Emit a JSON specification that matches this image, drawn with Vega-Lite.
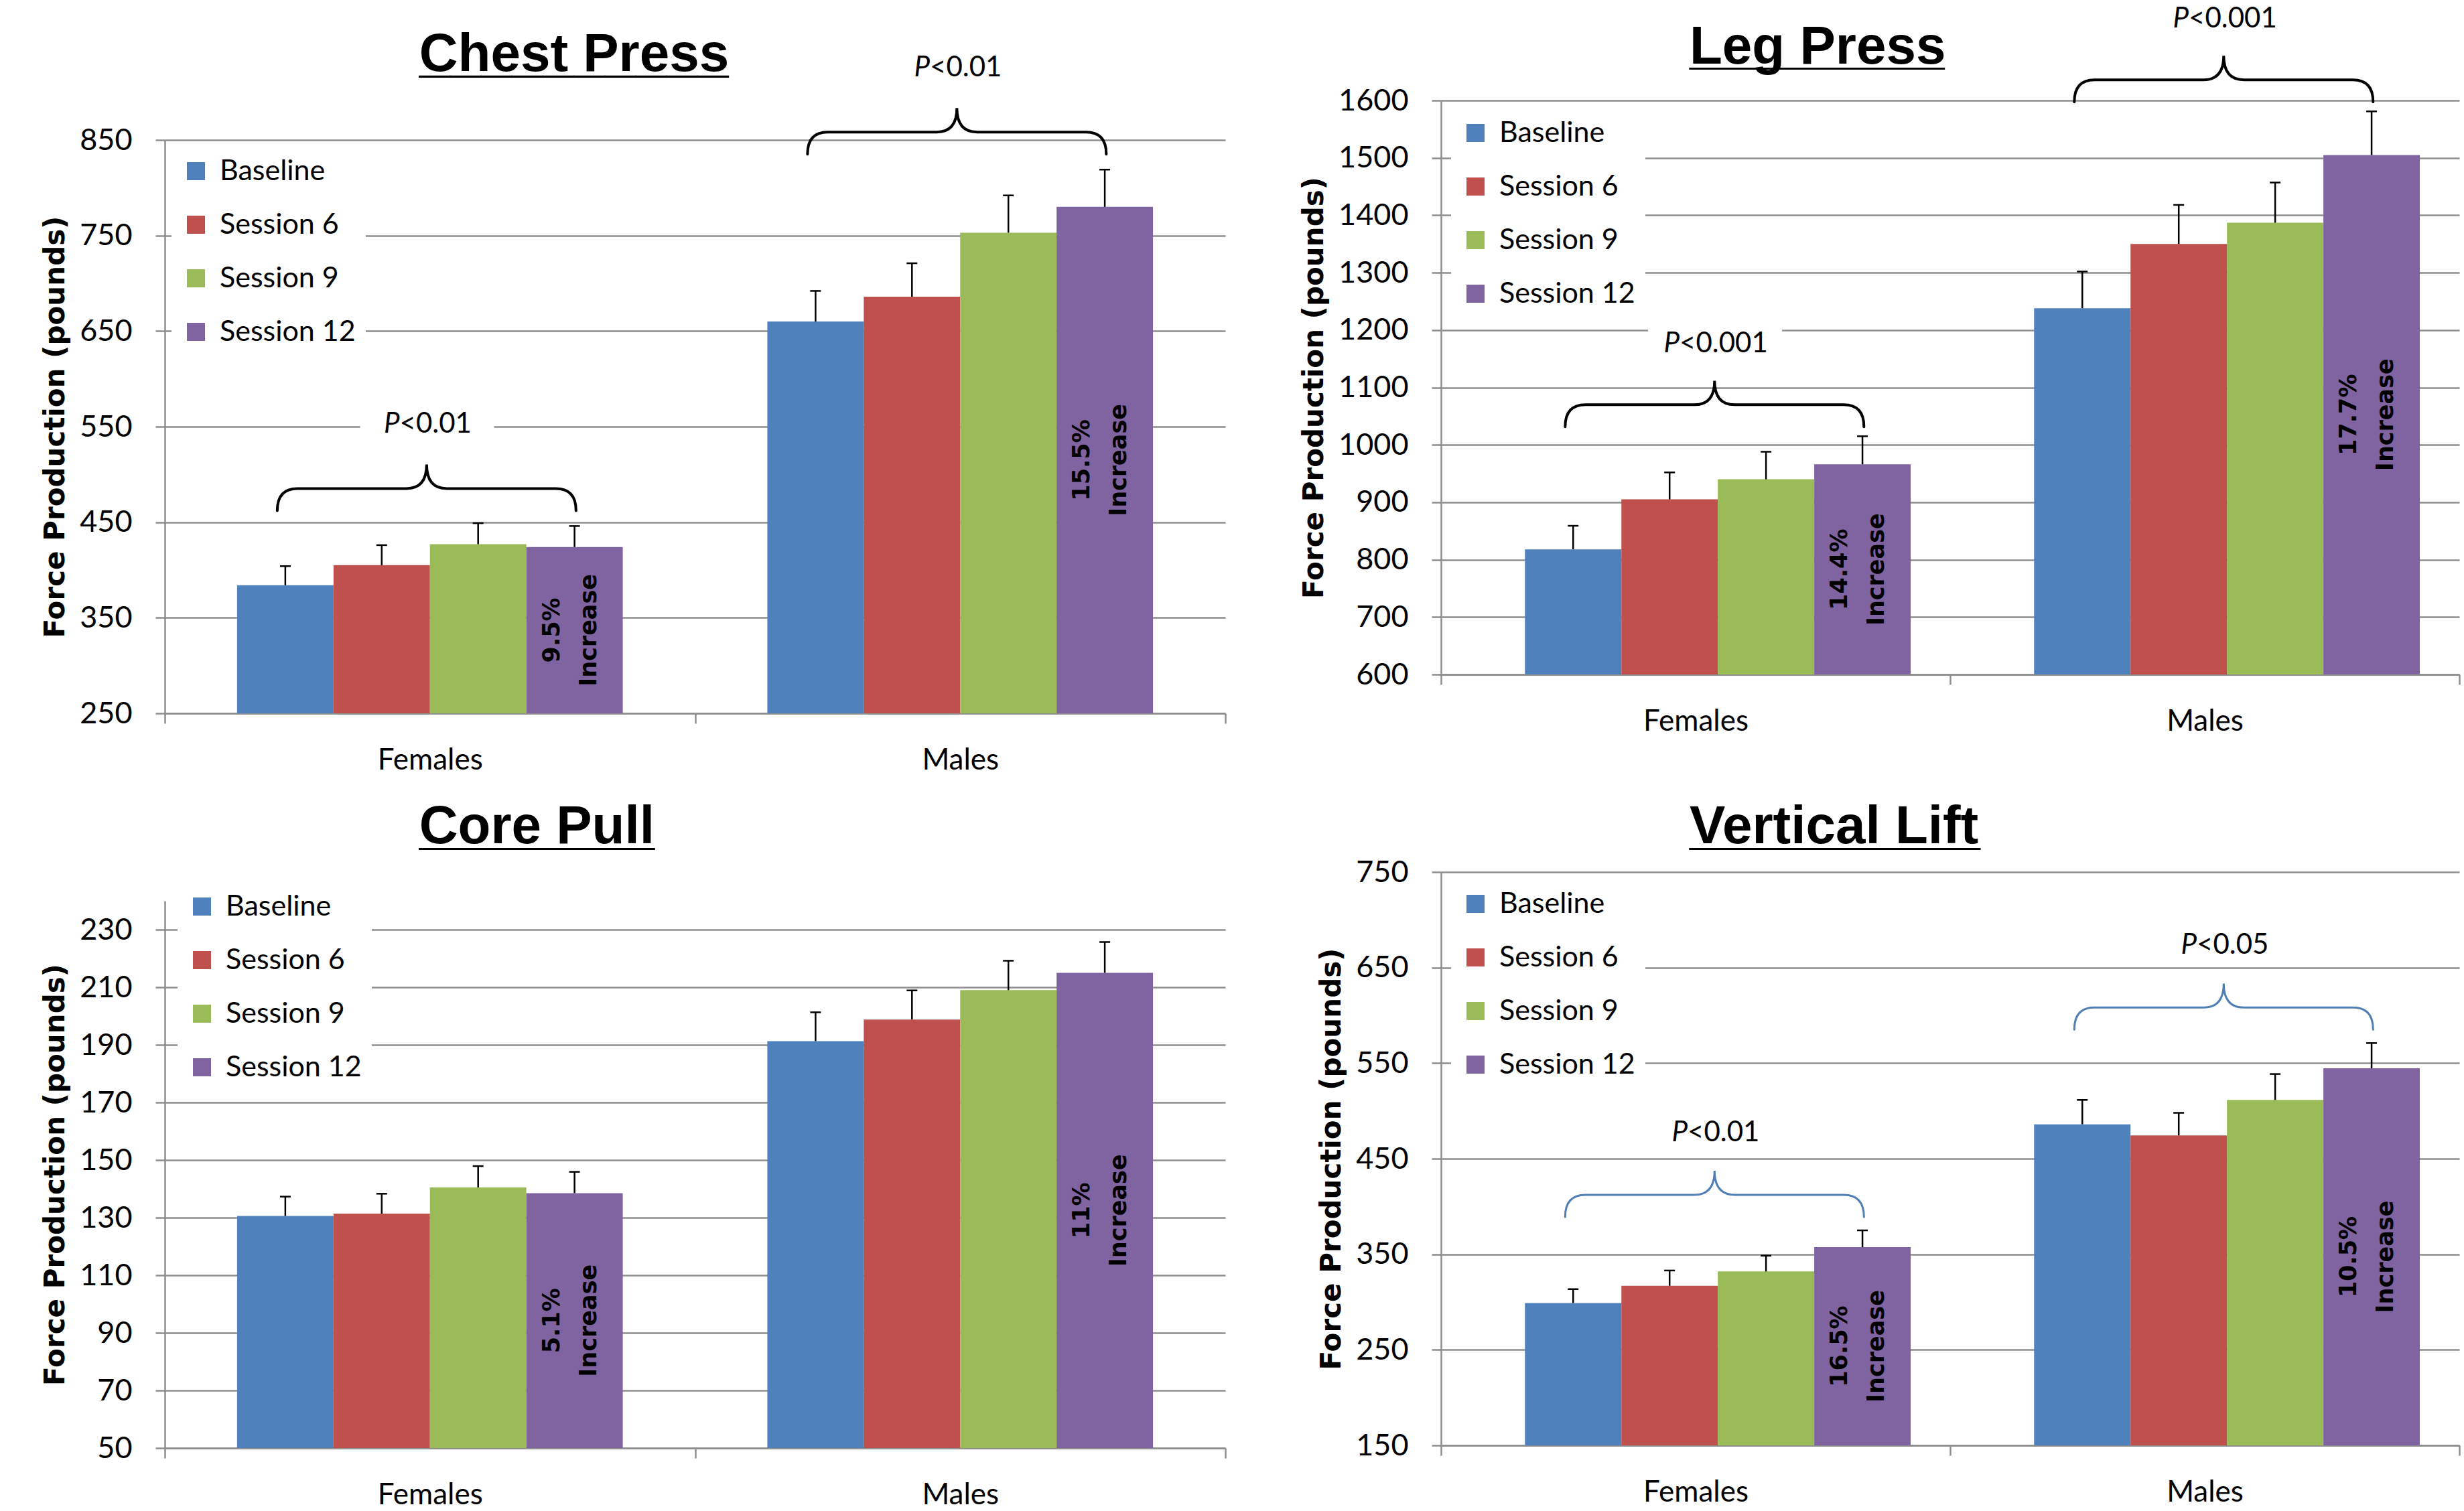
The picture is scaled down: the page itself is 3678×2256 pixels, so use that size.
{
  "$schema": "https://vega.github.io/schema/vega-lite/v6.json",
  "background": "white",
  "padding": {"left": 61, "top": 6, "right": 0, "bottom": 0},
  "bounds": "flush",
  "align": "each",
  "columns": 2,
  "spacing": {"row": 237, "column": 322},
  "resolve": {"scale": {"x": "independent", "y": "independent", "xOffset": "independent", "color": "independent"}, "legend": {"color": "independent"}},
  "config": {
    "view": {"stroke": null},
    "font": "Lato",
    "axisY": {"grid": true, "gridColor": "#8e8e8e", "gridWidth": 2.5, "domainColor": "#8e8e8e", "domainWidth": 2.5, "tickColor": "#8e8e8e", "tickWidth": 2.5, "tickSize": 14, "labelFont": "Lato", "labelFontSize": 45, "labelColor": "#000000", "labelPadding": 35, "titleFont": "DejaVu Sans", "titleFontSize": 42, "titleFontWeight": "bold", "titleColor": "#000000", "titlePadding": 14, "format": "d"},
    "axisX": {"grid": false, "domainColor": "#8e8e8e", "domainWidth": 2.5, "tickColor": "#8e8e8e", "tickWidth": 2.5, "tickSize": 15, "labelFont": "Lato", "labelFontSize": 44, "labelColor": "#000000", "labelPadding": 33, "labelAngle": 0},
    "legend": {"symbolType": "square", "symbolSize": 729, "symbolStrokeWidth": 0, "symbolOpacity": 1, "labelFont": "Lato", "labelFontSize": 43, "labelColor": "#000000", "labelOffset": 14, "labelLimit": 400, "rowPadding": 36, "padding": 15, "fillColor": "white"}
  },
  "concat": [
    {
      "width": 1583, "height": 915,
      "data": {"values": [
        {"gender": "Females", "session": "Baseline", "value": 384, "upper": 404},
        {"gender": "Females", "session": "Session 6", "value": 405, "upper": 426},
        {"gender": "Females", "session": "Session 9", "value": 427, "upper": 449},
        {"gender": "Females", "session": "Session 12", "value": 424, "upper": 446, "p": "<0.01", "pct": "9.5%\nIncrease"},
        {"gender": "Males", "session": "Baseline", "value": 660, "upper": 692},
        {"gender": "Males", "session": "Session 6", "value": 686, "upper": 721},
        {"gender": "Males", "session": "Session 9", "value": 753, "upper": 792},
        {"gender": "Males", "session": "Session 12", "value": 780, "upper": 819, "p": "<0.01", "pct": "15.5%\nIncrease"}
      ]},
      "layer": [
        {"layer": [
          {"mark": {"type": "bar", "clip": true},
           "encoding": {
             "x": {"field": "gender", "type": "nominal", "title": null, "scale": {"domain": ["Females", "Males"], "paddingInner": 0, "paddingOuter": 0}, "axis": {"tickBand": "extent"}},
             "xOffset": {"field": "session", "type": "nominal", "scale": {"domain": ["Baseline", "Session 6", "Session 9", "Session 12"], "paddingInner": 0, "paddingOuter": 0.75}},
             "y": {"field": "value", "type": "quantitative", "title": "Force Production (pounds)", "scale": {"domain": [250, 850], "range": [915, 59], "zero": false, "nice": false}, "axis": {"values": [250, 350, 450, 550, 650, 750, 850]}},
             "color": {"field": "session", "type": "nominal", "scale": {"domain": ["Baseline", "Session 6", "Session 9", "Session 12"], "range": ["#4F81BD", "#C0504D", "#9BBB59", "#8064A2"]}, "legend": {"title": null, "orient": "none", "legendX": 10, "legendY": 69}}
           }},
          {"mark": {"type": "rule", "color": "black", "strokeWidth": 2.5},
           "encoding": {"x": {"field": "gender", "type": "nominal", "title": null}, "xOffset": {"field": "session", "type": "nominal"}, "y": {"field": "value", "type": "quantitative", "title": "Force Production (pounds)"}, "y2": {"field": "upper"}}},
          {"mark": {"type": "tick", "color": "black", "thickness": 2.5, "size": 16, "opacity": 1},
           "encoding": {"x": {"field": "gender", "type": "nominal", "title": null}, "xOffset": {"field": "session", "type": "nominal"}, "y": {"field": "upper", "type": "quantitative", "title": "Force Production (pounds)"}}},
          {"transform": [{"filter": "datum.session === 'Session 12'"}],
           "mark": {"type": "point", "shape": "M -1.99 -0.103 Q -1.99 -0.251 -1.855 -0.251 L -1.125 -0.251 Q -0.99 -0.251 -0.99 -0.412 Q -0.99 -0.251 -0.855 -0.251 L -0.125 -0.251 Q 0.01 -0.251 0.01 -0.103", "size": 198916, "filled": false, "color": "black", "strokeWidth": 4, "opacity": 1, "strokeCap": "round"},
           "encoding": {"x": {"field": "gender", "type": "nominal", "title": null}, "xOffset": {"field": "session", "type": "nominal"}, "y": {"field": "upper", "type": "quantitative", "title": "Force Production (pounds)"}}},
          {"transform": [{"filter": "datum.session === 'Session 12'"}],
           "mark": {"type": "point", "shape": "M -3.2 -1.74 L -1.2 -1.74 L -1.2 -1.3 L -3.2 -1.3 Z", "size": 40000, "filled": true, "color": "white", "opacity": 1, "strokeWidth": 0},
           "encoding": {"x": {"field": "gender", "type": "nominal", "title": null}, "xOffset": {"field": "session", "type": "nominal"}, "y": {"field": "upper", "type": "quantitative", "title": "Force Production (pounds)"}}},
          {"transform": [{"filter": "datum.session === 'Session 12'"}],
           "mark": {"type": "text", "text": "P", "font": "Lato", "fontSize": 42, "fontStyle": "italic", "align": "right", "baseline": "middle", "dx": -261, "dy": -152, "color": "black"},
           "encoding": {"x": {"field": "gender", "type": "nominal", "title": null}, "xOffset": {"field": "session", "type": "nominal"}, "y": {"field": "upper", "type": "quantitative", "title": "Force Production (pounds)"}}},
          {"transform": [{"filter": "datum.session === 'Session 12'"}],
           "mark": {"type": "text", "font": "Lato", "fontSize": 42, "align": "left", "baseline": "middle", "dx": -261, "dy": -152, "color": "black"},
           "encoding": {"x": {"field": "gender", "type": "nominal", "title": null}, "xOffset": {"field": "session", "type": "nominal"}, "y": {"field": "upper", "type": "quantitative", "title": "Force Production (pounds)"}, "text": {"field": "p"}}},
          {"data": {"values": [{}]},
           "mark": {"type": "text", "text": "Chest Press", "font": "Liberation Sans", "fontWeight": "bold", "fontSize": 80, "align": "left", "baseline": "alphabetic", "dx": -16, "dy": -103, "color": "black"},
           "encoding": {"x": {"datum": "Females", "type": "nominal"}, "y": {"datum": 850, "type": "quantitative"}}},
          {"data": {"values": [{}]},
           "mark": {"type": "text", "text": "__________", "font": "Liberation Sans", "fontWeight": "bold", "fontSize": 83, "align": "left", "baseline": "alphabetic", "dx": -16, "dy": -103, "color": "black"},
           "encoding": {"x": {"datum": "Females", "type": "nominal"}, "y": {"datum": 850, "type": "quantitative"}}}
        ]},
        {"transform": [{"filter": "datum.session === 'Session 12'"}],
         "mark": {"type": "text", "angle": 270, "font": "DejaVu Sans", "fontWeight": "bold", "fontSize": 35, "lineHeight": 55, "lineBreak": "\n", "align": "center", "baseline": "middle", "dy": -34, "color": "black"},
         "encoding": {"x": {"field": "gender", "type": "nominal", "title": null}, "xOffset": {"field": "session", "type": "nominal"}, "y": {"field": "value", "type": "quantitative", "scale": {"domain": [250, 1450], "range": [915, 59], "zero": false, "nice": false}, "axis": null}, "text": {"field": "pct"}}}
      ],
      "resolve": {"scale": {"y": "independent"}}
    },
    {
      "width": 1520, "height": 857,
      "data": {"values": [
        {"gender": "Females", "session": "Baseline", "value": 818, "upper": 859},
        {"gender": "Females", "session": "Session 6", "value": 905, "upper": 952},
        {"gender": "Females", "session": "Session 9", "value": 940, "upper": 988},
        {"gender": "Females", "session": "Session 12", "value": 966, "upper": 1015, "p": "<0.001", "pct": "14.4%\nIncrease"},
        {"gender": "Males", "session": "Baseline", "value": 1238, "upper": 1302},
        {"gender": "Males", "session": "Session 6", "value": 1350, "upper": 1418},
        {"gender": "Males", "session": "Session 9", "value": 1387, "upper": 1457},
        {"gender": "Males", "session": "Session 12", "value": 1505, "upper": 1581, "p": "<0.001", "pct": "17.7%\nIncrease"}
      ]},
      "layer": [
        {"layer": [
          {"mark": {"type": "bar", "clip": true},
           "encoding": {
             "x": {"field": "gender", "type": "nominal", "title": null, "scale": {"domain": ["Females", "Males"], "paddingInner": 0, "paddingOuter": 0}, "axis": {"tickBand": "extent"}},
             "xOffset": {"field": "session", "type": "nominal", "scale": {"domain": ["Baseline", "Session 6", "Session 9", "Session 12"], "paddingInner": 0, "paddingOuter": 0.64, "align": 0.68}},
             "y": {"field": "value", "type": "quantitative", "title": "Force Production (pounds)", "scale": {"domain": [600, 1600], "zero": false, "nice": false}, "axis": {"values": [600, 700, 800, 900, 1000, 1100, 1200, 1300, 1400, 1500, 1600]}},
             "color": {"field": "session", "type": "nominal", "scale": {"domain": ["Baseline", "Session 6", "Session 9", "Session 12"], "range": ["#4F81BD", "#C0504D", "#9BBB59", "#8064A2"]}, "legend": {"title": null, "orient": "none", "legendX": 15, "legendY": 12}}
           }},
          {"mark": {"type": "rule", "color": "black", "strokeWidth": 2.5},
           "encoding": {"x": {"field": "gender", "type": "nominal", "title": null}, "xOffset": {"field": "session", "type": "nominal"}, "y": {"field": "value", "type": "quantitative", "title": "Force Production (pounds)"}, "y2": {"field": "upper"}}},
          {"mark": {"type": "tick", "color": "black", "thickness": 2.5, "size": 16, "opacity": 1},
           "encoding": {"x": {"field": "gender", "type": "nominal", "title": null}, "xOffset": {"field": "session", "type": "nominal"}, "y": {"field": "upper", "type": "quantitative", "title": "Force Production (pounds)"}}},
          {"transform": [{"filter": "datum.session === 'Session 12'"}],
           "mark": {"type": "point", "shape": "M -1.99 -0.063 Q -1.99 -0.211 -1.855 -0.211 L -1.125 -0.211 Q -0.99 -0.211 -0.99 -0.372 Q -0.99 -0.211 -0.855 -0.211 L -0.125 -0.211 Q 0.01 -0.211 0.01 -0.063", "size": 198916, "filled": false, "color": "black", "strokeWidth": 4, "opacity": 1, "strokeCap": "round"},
           "encoding": {"x": {"field": "gender", "type": "nominal", "title": null}, "xOffset": {"field": "session", "type": "nominal"}, "y": {"field": "upper", "type": "quantitative", "title": "Force Production (pounds)"}}},
          {"transform": [{"filter": "datum.session === 'Session 12'"}],
           "mark": {"type": "point", "shape": "M -3.2 -1.6 L -1.2 -1.6 L -1.2 -1.16 L -3.2 -1.16 Z", "size": 40000, "filled": true, "color": "white", "opacity": 1, "strokeWidth": 0},
           "encoding": {"x": {"field": "gender", "type": "nominal", "title": null}, "xOffset": {"field": "session", "type": "nominal"}, "y": {"field": "upper", "type": "quantitative", "title": "Force Production (pounds)"}}},
          {"transform": [{"filter": "datum.session === 'Session 12'"}],
           "mark": {"type": "text", "text": "P", "font": "Lato", "fontSize": 42, "fontStyle": "italic", "align": "right", "baseline": "middle", "dx": -273, "dy": -138, "color": "black"},
           "encoding": {"x": {"field": "gender", "type": "nominal", "title": null}, "xOffset": {"field": "session", "type": "nominal"}, "y": {"field": "upper", "type": "quantitative", "title": "Force Production (pounds)"}}},
          {"transform": [{"filter": "datum.session === 'Session 12'"}],
           "mark": {"type": "text", "font": "Lato", "fontSize": 42, "align": "left", "baseline": "middle", "dx": -273, "dy": -138, "color": "black"},
           "encoding": {"x": {"field": "gender", "type": "nominal", "title": null}, "xOffset": {"field": "session", "type": "nominal"}, "y": {"field": "upper", "type": "quantitative", "title": "Force Production (pounds)"}, "text": {"field": "p"}}},
          {"data": {"values": [{}]},
           "mark": {"type": "text", "text": "Leg Press", "font": "Liberation Sans", "fontWeight": "bold", "fontSize": 80, "align": "left", "baseline": "alphabetic", "dx": -9, "dy": -55, "color": "black"},
           "encoding": {"x": {"datum": "Females", "type": "nominal"}, "y": {"datum": 1600, "type": "quantitative"}}},
          {"data": {"values": [{}]},
           "mark": {"type": "text", "text": "_________", "font": "Liberation Sans", "fontWeight": "bold", "fontSize": 76, "align": "left", "baseline": "alphabetic", "dx": -9, "dy": -55, "color": "black"},
           "encoding": {"x": {"datum": "Females", "type": "nominal"}, "y": {"datum": 1600, "type": "quantitative"}}}
        ]},
        {"transform": [{"filter": "datum.session === 'Session 12'"}],
         "mark": {"type": "text", "angle": 270, "font": "DejaVu Sans", "fontWeight": "bold", "fontSize": 35, "lineHeight": 55, "lineBreak": "\n", "align": "center", "baseline": "middle", "dy": -34, "color": "black"},
         "encoding": {"x": {"field": "gender", "type": "nominal", "title": null}, "xOffset": {"field": "session", "type": "nominal"}, "y": {"field": "value", "type": "quantitative", "scale": {"domain": [600, 2600], "zero": false, "nice": false}, "axis": null}, "text": {"field": "pct"}}}
      ],
      "resolve": {"scale": {"y": "independent"}}
    },
    {
      "width": 1583, "height": 860,
      "data": {"values": [
        {"gender": "Females", "session": "Baseline", "value": 130.6, "upper": 137.3},
        {"gender": "Females", "session": "Session 6", "value": 131.4, "upper": 138.3},
        {"gender": "Females", "session": "Session 9", "value": 140.5, "upper": 147.9},
        {"gender": "Females", "session": "Session 12", "value": 138.5, "upper": 145.9, "pct": "5.1%\nIncrease"},
        {"gender": "Males", "session": "Baseline", "value": 191.3, "upper": 201.3},
        {"gender": "Males", "session": "Session 6", "value": 198.8, "upper": 208.9},
        {"gender": "Males", "session": "Session 9", "value": 209, "upper": 219.2},
        {"gender": "Males", "session": "Session 12", "value": 215, "upper": 225.7, "pct": "11%\nIncrease"}
      ]},
      "layer": [
        {"layer": [
          {"mark": {"type": "bar", "clip": true},
           "encoding": {
             "x": {"field": "gender", "type": "nominal", "title": null, "scale": {"domain": ["Females", "Males"], "paddingInner": 0, "paddingOuter": 0}, "axis": {"tickBand": "extent"}},
             "xOffset": {"field": "session", "type": "nominal", "scale": {"domain": ["Baseline", "Session 6", "Session 9", "Session 12"], "paddingInner": 0, "paddingOuter": 0.75}},
             "y": {"field": "value", "type": "quantitative", "title": "Force Production (pounds)", "scale": {"domain": [50, 240], "range": [860, 43], "zero": false, "nice": false}, "axis": {"values": [50, 70, 90, 110, 130, 150, 170, 190, 210, 230]}},
             "color": {"field": "session", "type": "nominal", "scale": {"domain": ["Baseline", "Session 6", "Session 9", "Session 12"], "range": ["#4F81BD", "#C0504D", "#9BBB59", "#8064A2"]}, "legend": {"title": null, "orient": "none", "legendX": 19, "legendY": 15}}
           }},
          {"mark": {"type": "rule", "color": "black", "strokeWidth": 2.5},
           "encoding": {"x": {"field": "gender", "type": "nominal", "title": null}, "xOffset": {"field": "session", "type": "nominal"}, "y": {"field": "value", "type": "quantitative", "title": "Force Production (pounds)"}, "y2": {"field": "upper"}}},
          {"mark": {"type": "tick", "color": "black", "thickness": 2.5, "size": 16, "opacity": 1},
           "encoding": {"x": {"field": "gender", "type": "nominal", "title": null}, "xOffset": {"field": "session", "type": "nominal"}, "y": {"field": "upper", "type": "quantitative", "title": "Force Production (pounds)"}}},
          {"data": {"values": [{}]},
           "mark": {"type": "text", "text": "Core Pull", "font": "Liberation Sans", "fontWeight": "bold", "fontSize": 80, "align": "left", "baseline": "alphabetic", "dx": -16, "dy": -86, "color": "black"},
           "encoding": {"x": {"datum": "Females", "type": "nominal"}, "y": {"datum": 240, "type": "quantitative"}}},
          {"data": {"values": [{}]},
           "mark": {"type": "text", "text": "________", "font": "Liberation Sans", "fontWeight": "bold", "fontSize": 79, "align": "left", "baseline": "alphabetic", "dx": -16, "dy": -86, "color": "black"},
           "encoding": {"x": {"datum": "Females", "type": "nominal"}, "y": {"datum": 240, "type": "quantitative"}}}
        ]},
        {"transform": [{"filter": "datum.session === 'Session 12'"}],
         "mark": {"type": "text", "angle": 270, "font": "DejaVu Sans", "fontWeight": "bold", "fontSize": 35, "lineHeight": 55, "lineBreak": "\n", "align": "center", "baseline": "middle", "dy": -34, "color": "black"},
         "encoding": {"x": {"field": "gender", "type": "nominal", "title": null}, "xOffset": {"field": "session", "type": "nominal"}, "y": {"field": "value", "type": "quantitative", "scale": {"domain": [50, 430], "range": [860, 43], "zero": false, "nice": false}, "axis": null}, "text": {"field": "pct"}}}
      ],
      "resolve": {"scale": {"y": "independent"}}
    },
    {
      "width": 1520, "height": 856,
      "data": {"values": [
        {"gender": "Females", "session": "Baseline", "value": 299, "upper": 313.5},
        {"gender": "Females", "session": "Session 6", "value": 317, "upper": 333},
        {"gender": "Females", "session": "Session 9", "value": 332, "upper": 348.5},
        {"gender": "Females", "session": "Session 12", "value": 357.4, "upper": 375, "p": "<0.01", "pct": "16.5%\nIncrease"},
        {"gender": "Males", "session": "Baseline", "value": 486, "upper": 511.5},
        {"gender": "Males", "session": "Session 6", "value": 474.4, "upper": 498},
        {"gender": "Males", "session": "Session 9", "value": 511.5, "upper": 538.6},
        {"gender": "Males", "session": "Session 12", "value": 544.6, "upper": 571, "p": "<0.05", "pct": "10.5%\nIncrease"}
      ]},
      "layer": [
        {"layer": [
          {"mark": {"type": "bar", "clip": true},
           "encoding": {
             "x": {"field": "gender", "type": "nominal", "title": null, "scale": {"domain": ["Females", "Males"], "paddingInner": 0, "paddingOuter": 0}, "axis": {"tickBand": "extent"}},
             "xOffset": {"field": "session", "type": "nominal", "scale": {"domain": ["Baseline", "Session 6", "Session 9", "Session 12"], "paddingInner": 0, "paddingOuter": 0.64, "align": 0.68}},
             "y": {"field": "value", "type": "quantitative", "title": "Force Production (pounds)", "scale": {"domain": [150, 750], "zero": false, "nice": false}, "axis": {"values": [150, 250, 350, 450, 550, 650, 750]}},
             "color": {"field": "session", "type": "nominal", "scale": {"domain": ["Baseline", "Session 6", "Session 9", "Session 12"], "range": ["#4F81BD", "#C0504D", "#9BBB59", "#8064A2"]}, "legend": {"title": null, "orient": "none", "legendX": 15, "legendY": 11}}
           }},
          {"mark": {"type": "rule", "color": "black", "strokeWidth": 2.5},
           "encoding": {"x": {"field": "gender", "type": "nominal", "title": null}, "xOffset": {"field": "session", "type": "nominal"}, "y": {"field": "value", "type": "quantitative", "title": "Force Production (pounds)"}, "y2": {"field": "upper"}}},
          {"mark": {"type": "tick", "color": "black", "thickness": 2.5, "size": 16, "opacity": 1},
           "encoding": {"x": {"field": "gender", "type": "nominal", "title": null}, "xOffset": {"field": "session", "type": "nominal"}, "y": {"field": "upper", "type": "quantitative", "title": "Force Production (pounds)"}}},
          {"transform": [{"filter": "datum.session === 'Session 12'"}],
           "mark": {"type": "point", "shape": "M -1.99 -0.09 Q -1.99 -0.238 -1.855 -0.238 L -1.125 -0.238 Q -0.99 -0.238 -0.99 -0.399 Q -0.99 -0.238 -0.855 -0.238 L -0.125 -0.238 Q 0.01 -0.238 0.01 -0.09", "size": 198916, "filled": false, "color": "#4f7fb5", "strokeWidth": 3, "opacity": 1, "strokeCap": "round"},
           "encoding": {"x": {"field": "gender", "type": "nominal", "title": null}, "xOffset": {"field": "session", "type": "nominal"}, "y": {"field": "upper", "type": "quantitative", "title": "Force Production (pounds)"}}},
          {"transform": [{"filter": "datum.session === 'Session 12'"}],
           "mark": {"type": "point", "shape": "M -3.2 -1.68 L -1.2 -1.68 L -1.2 -1.24 L -3.2 -1.24 Z", "size": 40000, "filled": true, "color": "white", "opacity": 1, "strokeWidth": 0},
           "encoding": {"x": {"field": "gender", "type": "nominal", "title": null}, "xOffset": {"field": "session", "type": "nominal"}, "y": {"field": "upper", "type": "quantitative", "title": "Force Production (pounds)"}}},
          {"transform": [{"filter": "datum.session === 'Session 12'"}],
           "mark": {"type": "text", "text": "P", "font": "Lato", "fontSize": 42, "fontStyle": "italic", "align": "right", "baseline": "middle", "dx": -261, "dy": -146, "color": "black"},
           "encoding": {"x": {"field": "gender", "type": "nominal", "title": null}, "xOffset": {"field": "session", "type": "nominal"}, "y": {"field": "upper", "type": "quantitative", "title": "Force Production (pounds)"}}},
          {"transform": [{"filter": "datum.session === 'Session 12'"}],
           "mark": {"type": "text", "font": "Lato", "fontSize": 42, "align": "left", "baseline": "middle", "dx": -261, "dy": -146, "color": "black"},
           "encoding": {"x": {"field": "gender", "type": "nominal", "title": null}, "xOffset": {"field": "session", "type": "nominal"}, "y": {"field": "upper", "type": "quantitative", "title": "Force Production (pounds)"}, "text": {"field": "p"}}},
          {"data": {"values": [{}]},
           "mark": {"type": "text", "text": "Vertical Lift", "font": "Liberation Sans", "fontWeight": "bold", "fontSize": 80, "align": "left", "baseline": "alphabetic", "dx": -9, "dy": -43, "color": "black"},
           "encoding": {"x": {"datum": "Females", "type": "nominal"}, "y": {"datum": 750, "type": "quantitative"}}},
          {"data": {"values": [{}]},
           "mark": {"type": "text", "text": "__________", "font": "Liberation Sans", "fontWeight": "bold", "fontSize": 78, "align": "left", "baseline": "alphabetic", "dx": -9, "dy": -43, "color": "black"},
           "encoding": {"x": {"datum": "Females", "type": "nominal"}, "y": {"datum": 750, "type": "quantitative"}}}
        ]},
        {"transform": [{"filter": "datum.session === 'Session 12'"}],
         "mark": {"type": "text", "angle": 270, "font": "DejaVu Sans", "fontWeight": "bold", "fontSize": 35, "lineHeight": 55, "lineBreak": "\n", "align": "center", "baseline": "middle", "dy": -34, "color": "black"},
         "encoding": {"x": {"field": "gender", "type": "nominal", "title": null}, "xOffset": {"field": "session", "type": "nominal"}, "y": {"field": "value", "type": "quantitative", "scale": {"domain": [150, 1350], "zero": false, "nice": false}, "axis": null}, "text": {"field": "pct"}}}
      ],
      "resolve": {"scale": {"y": "independent"}}
    }
  ]
}
